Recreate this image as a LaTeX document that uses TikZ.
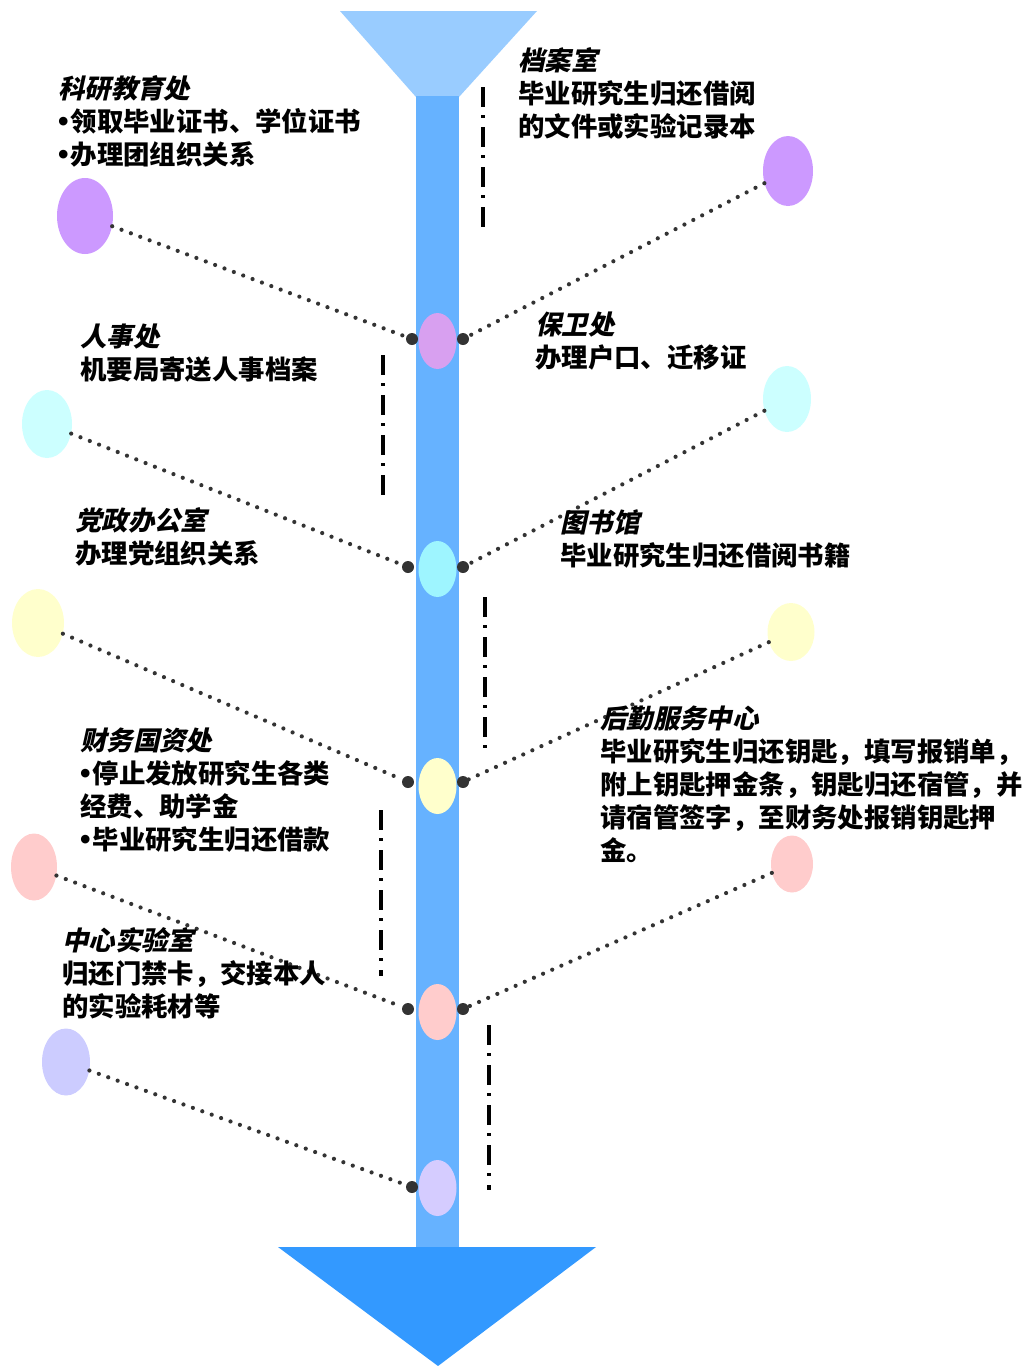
\documentclass[tikz,border=0pt]{standalone}
\usepackage{fontspec}
\usetikzlibrary{shapes.geometric}
\newfontfamily\cjkb{Noto Sans CJK SC}
\newfontfamily\cjkhd{Noto Sans CJK SC}[FakeSlant=0.22]
\newfontfamily\latinb{Liberation Sans}
\definecolor{funnel}{HTML}{99CCFF}
\definecolor{stem}{HTML}{66B2FF}
\definecolor{arrowblue}{HTML}{3399FF}
\definecolor{dotgray}{HTML}{333333}
\definecolor{cpurple}{HTML}{CC99FF}
\definecolor{ipurple}{HTML}{D8A0F0}
\definecolor{ccyan}{HTML}{CCFFFF}
\definecolor{icyan}{HTML}{9EF5FF}
\definecolor{cyellow}{HTML}{FFFFCC}
\definecolor{cpink}{HTML}{FFCCCC}
\definecolor{clav}{HTML}{CCCCFF}
\definecolor{ilav}{HTML}{D5CCFF}
\tikzset{
  outerell/.style={ellipse, minimum width=50, minimum height=70, inner sep=0, draw=none},
  innerell/.style={ellipse, minimum width=38, minimum height=56, inner sep=0, draw=none},
  bdot/.style={circle, fill=dotgray, minimum size=12, inner sep=0},
  dotline/.style={dotgray, line width=4.2, dash pattern=on 0pt off 10pt, line cap=round},
  dashdot/.style={black, line width=4, dash pattern=on 20pt off 8pt on 3pt off 9pt},
  txt/.style={anchor=base west, inner sep=0, text width=520, align=left,
              font=\cjkb\bfseries\fontsize{26.4}{33}\selectfont},
}
\newcommand{\hd}[1]{{\cjkhd\bfseries #1}}
\newcommand{\bul}{{\latinb\bfseries\fontsize{30}{33}\selectfont •}\hspace{2pt}}
\begin{document}
\begin{tikzpicture}[x=1pt, y=-1pt]
\useasboundingbox (0,0) rectangle (1028,1366);
% funnel, stem, arrow
\fill[funnel] (340,11) -- (537,11) -- (459,97) -- (416,97) -- cycle;
\fill[stem] (416,96) rectangle (459,1249);
\fill[arrowblue] (278,1247) -- (596,1247) -- (438,1366) -- cycle;
% inner ellipses
\node[innerell, fill=ipurple] (i1) at (437.5,341) {};
\node[innerell, fill=icyan] (i2) at (437.5,569) {};
\node[innerell, fill=cyellow] (i3) at (437.5,786) {};
\node[innerell, fill=cpink] (i4) at (437.5,1012) {};
\node[innerell, fill=ilav] (i5) at (437.5,1188) {};
% black dots
\node[bdot] (dl1) at (412,339) {};
\node[bdot] (dr1) at (463,339) {};
\node[bdot] (dl2) at (408,567) {};
\node[bdot] (dr2) at (463,567) {};
\node[bdot] (dl3) at (408,782) {};
\node[bdot] (dr3) at (463,782) {};
\node[bdot] (dl4) at (408,1009) {};
\node[bdot] (dr4) at (463,1009) {};
\node[bdot] (dl5) at (412,1187) {};
% outer ellipses
\node[outerell, fill=cpurple, minimum width=56, minimum height=76] (ol1) at (85,216) {};
\node[outerell, fill=cpurple] (or1) at (788,171) {};
\node[outerell, fill=ccyan, minimum height=68] (ol2) at (47,424) {};
\node[outerell, fill=ccyan, minimum width=48, minimum height=66] (or2) at (787,399) {};
\node[outerell, fill=cyellow, minimum width=52, minimum height=68] (ol3) at (38,623) {};
\node[outerell, fill=cyellow, minimum width=47, minimum height=58] (or3) at (791,632) {};
\node[outerell, fill=cpink, minimum width=46, minimum height=67] (ol4) at (34,867) {};
\node[outerell, fill=cpink, minimum width=42, minimum height=57] (or4) at (792,864) {};
\node[outerell, fill=clav, minimum width=48, minimum height=67] (ol5) at (66,1062) {};
% dotted connectors
\draw[dotline] (ol1) -- (dl1);
\draw[dotline] (or1) -- (dr1);
\draw[dotline] (ol2) -- (dl2);
\draw[dotline] (or2) -- (dr2);
\draw[dotline] (ol3) -- (dl3);
\draw[dotline] (or3) -- (dr3);
\draw[dotline] (ol4) -- (dl4);
\draw[dotline] (or4) -- (dr4);
\draw[dotline] (ol5) -- (dl5);
% dash-dot lines
\coordinate (a1) at (483,87);  \coordinate (b1) at (483,228);
\coordinate (a2) at (383,355); \coordinate (b2) at (383,496);
\coordinate (a3) at (485,597); \coordinate (b3) at (485,756);
\coordinate (a4) at (381,810); \coordinate (b4) at (381,976);
\coordinate (a5) at (489,1025); \coordinate (b5) at (489,1190);
\draw[dashdot] (a1) -- (b1);
\draw[dashdot] (a2) -- (b2);
\draw[dashdot] (a3) -- (b3);
\draw[dashdot] (a4) -- (b4);
\draw[dashdot] (a5) -- (b5);
% texts
\node[txt] (t1) at (58,98) {\hd{科研教育处}\\\bul 领取毕业证书、学位证书\\\bul 办理团组织关系};
\node[txt] (t2) at (518,70) {\hd{档案室}\\毕业研究生归还借阅\\的文件或实验记录本};
\node[txt] (t3) at (80,346) {\hd{人事处}\\机要局寄送人事档案};
\node[txt] (t4) at (535,334) {\hd{保卫处}\\办理户口、迁移证};
\node[txt] (t5) at (75,530) {\hd{党政办公室}\\办理党组织关系};
\node[txt] (t6) at (560,532) {\hd{图书馆}\\毕业研究生归还借阅书籍};
\node[txt] (t7) at (80,750) {\hd{财务国资处}\\\bul 停止发放研究生各类\\经费、助学金\\\bul 毕业研究生归还借款};
\node[txt] (t8) at (600,728) {\hd{后勤服务中心}\\毕业研究生归还钥匙，填写报销单，\\附上钥匙押金条，钥匙归还宿管，并\\请宿管签字，至财务处报销钥匙押\\金。};
\node[txt] (t9) at (62,950) {\hd{中心实验室}\\归还门禁卡，交接本人\\的实验耗材等};
\end{tikzpicture}
\end{document}
